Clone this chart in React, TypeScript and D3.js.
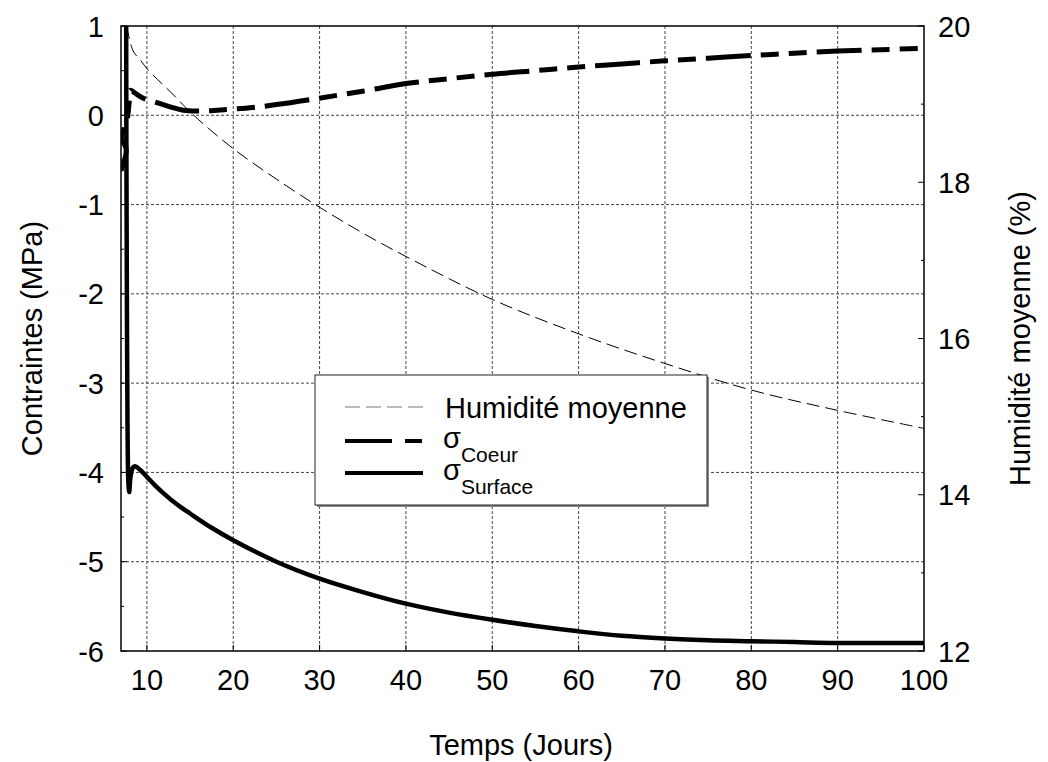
import React from 'react';
import * as d3 from 'd3';

// Humidité moyenne (right axis, %)
const humTime = [7.66, 8.4, 9.2, 10.2, 12.7, 15.4, 20, 25, 30, 35, 40, 50, 60, 70, 80, 90, 100];
const humValues = [20, 19.68, 19.57, 19.43, 19.16, 18.86, 18.43, 18.04, 17.68, 17.35, 17.05, 16.5, 16.06, 15.68, 15.34, 15.08, 14.85];

// sigma Coeur (left axis, MPa)
const coeurTime = [7.0, 7.6, 7.05, 7.65, 7.85, 7.95, 8.1, 8.6, 9.6, 10.9, 12.5, 14.2, 16.9, 19.2, 22.3, 25, 28.9, 35, 40, 45, 50, 55, 60, 65, 70, 75, 80, 85, 90, 95, 100];
const coeurValues = [-0.62, -0.38, -0.25, -0.08, 0.05, 0.15, 0.28, 0.25, 0.19, 0.15, 0.1, 0.056, 0.05, 0.064, 0.087, 0.12, 0.176, 0.27, 0.355, 0.41, 0.46, 0.5, 0.54, 0.575, 0.61, 0.64, 0.67, 0.695, 0.72, 0.735, 0.75];

// sigma Surface (left axis, MPa)
const surfTime = [7.6, 7.63, 7.68, 7.75, 7.85, 7.95, 8.1, 8.35, 8.6, 9.2, 10, 11, 12, 13.5, 15, 17.5, 20, 25, 30, 35, 40, 45, 50, 55, 60, 65, 70, 75, 80, 85, 90, 95, 100];
const surfValues = [1.0, -0.5, -2.0, -3.4, -4.1, -4.22, -4.05, -3.95, -3.93, -3.97, -4.05, -4.15, -4.24, -4.36, -4.46, -4.62, -4.76, -5.0, -5.19, -5.34, -5.47, -5.57, -5.65, -5.72, -5.78, -5.83, -5.86, -5.88, -5.89, -5.9, -5.91, -5.91, -5.91];

const xTicks = [10, 20, 30, 40, 50, 60, 70, 80, 90, 100];
const leftTicks = [1, 0, -1, -2, -3, -4, -5, -6];
const leftMinor = [0.5, -0.5, -1.5, -2.5, -3.5, -4.5, -5.5];
const rightTicks = [20, 18, 16, 14, 12];
const rightMinor = [19, 17, 15, 13];

const W = 1048;
const H = 762;
const plot = { left: 121, right: 924, top: 26, bottom: 651 };
const FONT = 'Liberation Sans, Arial, sans-serif';
const FS = 29;

const App: React.FC = () => {
  const x = d3.scaleLinear().domain([7, 100]).range([plot.left, plot.right]);
  const yL = d3.scaleLinear().domain([-6, 1]).range([plot.bottom, plot.top]);
  const yR = d3.scaleLinear().domain([12, 20]).range([plot.bottom, plot.top]);

  const lineL = d3.line<[number, number]>()
    .x(d => x(d[0]))
    .y(d => yL(d[1]))
    .curve(d3.curveCatmullRom.alpha(0.5));
  const lineR = d3.line<[number, number]>()
    .x(d => x(d[0]))
    .y(d => yR(d[1]))
    .curve(d3.curveCatmullRom.alpha(0.5));

  const humData = humTime.map((t, i) => [t, humValues[i]] as [number, number]);
  const coeurData = coeurTime.map((t, i) => [t, coeurValues[i]] as [number, number]);
  const surfData = surfTime.map((t, i) => [t, surfValues[i]] as [number, number]);

  const gridColor = '#444';
  const legend = { x: 315, y: 375, w: 392, h: 130 };

  return (
    <svg width={W} height={H} style={{ position: 'absolute', left: 0, top: 0, background: '#fff' }}
      fontFamily={FONT}>
      <defs>
        <clipPath id="plotClip">
          <rect x={plot.left} y={plot.top - 2} width={plot.right - plot.left} height={plot.bottom - plot.top + 4} />
        </clipPath>
      </defs>
      <rect width={W} height={H} fill="#fff" />

      {/* grid */}
      <g stroke={gridColor} strokeWidth={1} strokeDasharray="3,2">
        {xTicks.filter(t => t < 100).map(t => (
          <line key={'gx' + t} x1={x(t)} x2={x(t)} y1={plot.top} y2={plot.bottom} />
        ))}
        {leftTicks.filter(t => t > -6 && t < 1).map(t => (
          <line key={'gy' + t} x1={plot.left} x2={plot.right} y1={yL(t)} y2={yL(t)} />
        ))}
      </g>

      {/* ticks */}
      <g stroke="#000" strokeWidth={1}>
        {xTicks.map(t => (
          <line key={'tx' + t} x1={x(t)} x2={x(t)} y1={plot.bottom} y2={plot.bottom - 6} />
        ))}
        {leftTicks.map(t => (
          <line key={'tl' + t} x1={plot.left} x2={plot.left + 6} y1={yL(t)} y2={yL(t)} />
        ))}
        {leftMinor.map(t => (
          <line key={'tlm' + t} x1={plot.left} x2={plot.left + 3} y1={yL(t)} y2={yL(t)} />
        ))}
        {rightTicks.map(t => (
          <line key={'tr' + t} x1={plot.right} x2={plot.right - 6} y1={yR(t)} y2={yR(t)} />
        ))}
        {rightMinor.map(t => (
          <line key={'trm' + t} x1={plot.right} x2={plot.right - 3} y1={yR(t)} y2={yR(t)} />
        ))}
      </g>

      {/* data */}
      <g clipPath="url(#plotClip)" fill="none">
        <path d={lineR(humData) || ''} stroke="#000" strokeWidth={1} strokeDasharray="13,6" />
        <path d={lineL(coeurData) || ''} stroke="#000" strokeWidth={5} strokeDasharray="45,10,18,10,18,10" />
        <path d={lineL(surfData) || ''} stroke="#000" strokeWidth={4.5} strokeLinejoin="round" />
      </g>

      {/* frame */}
      <rect x={plot.left} y={plot.top} width={plot.right - plot.left} height={plot.bottom - plot.top}
        fill="none" stroke="#000" strokeWidth={1.5} />

      {/* tick labels */}
      <g fontSize={FS} fill="#000">
        {xTicks.map(t => (
          <text key={'lx' + t} x={x(t)} y={690} textAnchor="middle">{t}</text>
        ))}
        {leftTicks.map(t => (
          <text key={'ll' + t} x={104} y={yL(t) + 10.5} textAnchor="end">{t}</text>
        ))}
        {rightTicks.map(t => (
          <text key={'lr' + t} x={938} y={yR(t) + 10.5} textAnchor="start">{t}</text>
        ))}
      </g>

      {/* axis titles */}
      <g fontSize={FS} fill="#000" textAnchor="middle">
        <text x={521} y={755}>Temps (Jours)</text>
        <text transform={`translate(42,${(plot.top + plot.bottom) / 2}) rotate(-90)`}>Contraintes (MPa)</text>
        <text transform={`translate(1030,${(plot.top + plot.bottom) / 2}) rotate(-90)`}>Humidité moyenne (%)</text>
      </g>

      {/* legend */}
      <g>
        <rect x={legend.x + 2} y={legend.y + 2} width={legend.w} height={legend.h} fill="#888" />
        <rect x={legend.x} y={legend.y} width={legend.w} height={legend.h} fill="#fff" stroke="#222" strokeWidth={1} />
        <line x1={345} x2={423} y1={407} y2={407} stroke="#777" strokeWidth={1.2} strokeDasharray="15,6" />
        <line x1={345} x2={423} y1={441} y2={441} stroke="#000" strokeWidth={4} strokeDasharray="47,13,17" />
        <line x1={345} x2={423} y1={473} y2={473} stroke="#000" strokeWidth={4} />
        <text x={445} y={418} fontSize={FS} fill="#000">Humidité moyenne</text>
        <text x={443} y={448} fontSize={FS} fill="#000">σ<tspan fontSize={21} dy={14}>Coeur</tspan></text>
        <text x={443} y={480} fontSize={FS} fill="#000">σ<tspan fontSize={21} dy={14}>Surface</tspan></text>
      </g>
    </svg>
  );
};

export default App;
